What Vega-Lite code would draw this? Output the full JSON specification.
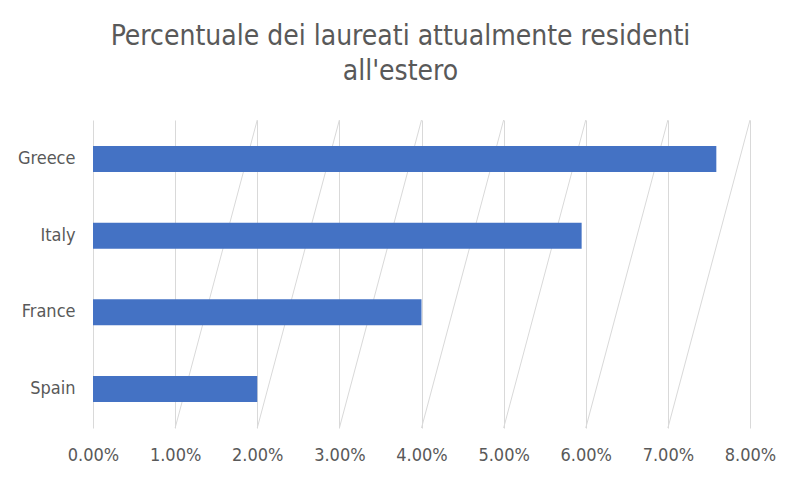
{
  "$schema": "https://vega.github.io/schema/vega-lite/v6.json",
  "autosize": {"type": "none"},
  "width": 657,
  "height": 308,
  "padding": {"left": 93, "top": 120, "right": 50, "bottom": 52},
  "background": "white",
  "config": {
    "view": {"stroke": null},
    "font": "Liberation Sans Narrow, DejaVu Sans Condensed, sans-serif"
  },
  "title": {
    "text": ["Percentuale dei laureati attualmente residenti", "all'estero"],
    "fontSize": 28,
    "fontWeight": "normal",
    "color": "#595959",
    "font": "Liberation Sans Narrow, DejaVu Sans Condensed, sans-serif",
    "anchor": "middle",
    "dx": -21,
    "offset": 34,
    "lineHeight": 35
  },
  "layer": [
    {
      "data": {"values": [
        {"from": 0.01, "to": 0.02},
        {"from": 0.02, "to": 0.03},
        {"from": 0.03, "to": 0.04},
        {"from": 0.04, "to": 0.05},
        {"from": 0.05, "to": 0.06},
        {"from": 0.06, "to": 0.07},
        {"from": 0.07, "to": 0.08}
      ]},
      "mark": {"type": "rule", "color": "#d9d9d9", "strokeWidth": 1},
      "encoding": {
        "x": {"field": "from", "type": "quantitative", "scale": {"domain": [0, 0.08], "nice": false}},
        "x2": {"field": "to"},
        "y": {"datum": 0, "type": "quantitative", "scale": {"domain": [0, 1]}, "axis": null},
        "y2": {"datum": 1}
      }
    },
    {
      "data": {"values": [
        {"country": "Greece", "value": 0.0759},
        {"country": "Italy", "value": 0.0595},
        {"country": "France", "value": 0.0400},
        {"country": "Spain", "value": 0.0200}
      ]},
      "mark": {"type": "bar", "color": "#4472C4"},
      "encoding": {
        "y": {
          "field": "country", "type": "nominal",
          "sort": ["Greece", "Italy", "France", "Spain"],
          "scale": {"paddingInner": 0.66, "paddingOuter": 0.34},
          "axis": {"title": null, "domain": false, "ticks": false, "labelFontSize": 18, "labelColor": "#595959", "labelPadding": 18, "labelFont": "Liberation Sans Narrow, DejaVu Sans Condensed, sans-serif"}
        },
        "x": {
          "field": "value", "type": "quantitative",
          "scale": {"domain": [0, 0.08], "nice": false},
          "axis": {"title": null, "format": ".2%", "values": [0, 0.01, 0.02, 0.03, 0.04, 0.05, 0.06, 0.07, 0.08], "domain": false, "ticks": false, "grid": true, "gridColor": "#d9d9d9", "labelFlush": false, "labelOverlap": false, "labelBound": false, "labelFontSize": 18, "labelColor": "#595959", "labelPadding": 18, "labelFont": "Liberation Sans Narrow, DejaVu Sans Condensed, sans-serif"}
        }
      }
    }
  ],
  "resolve": {"scale": {"y": "independent"}}
}
